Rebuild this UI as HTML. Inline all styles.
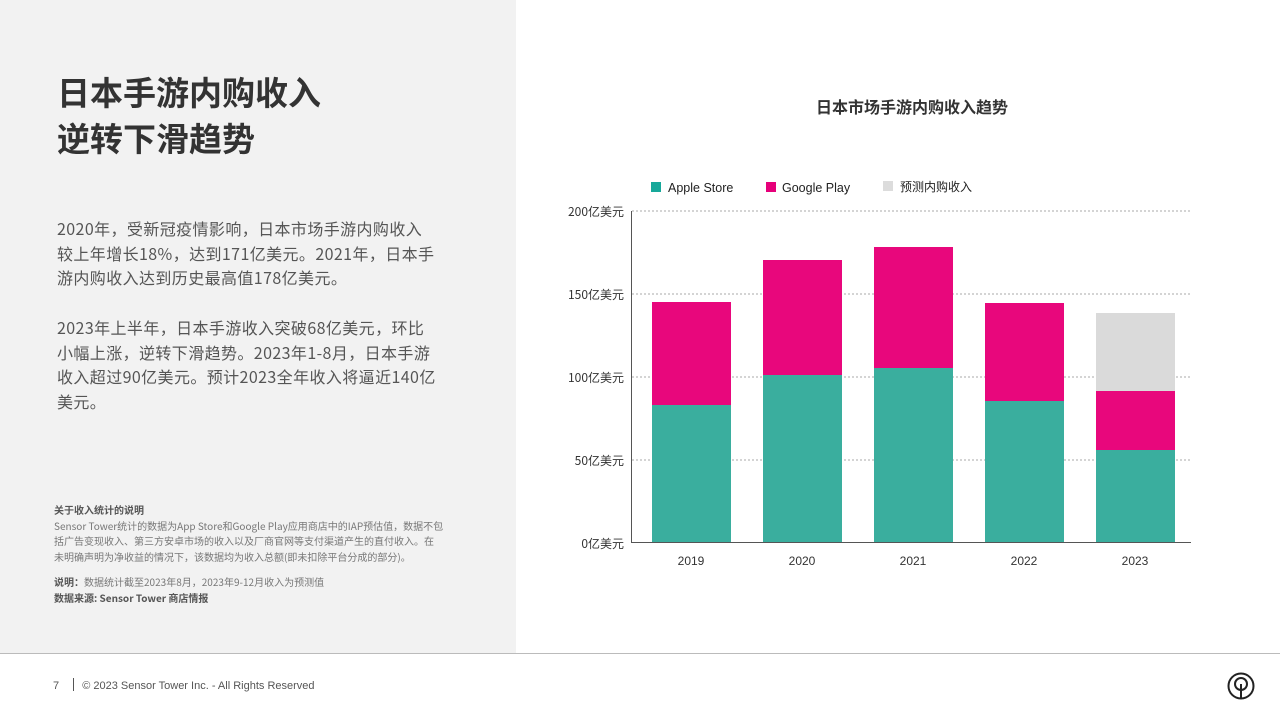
<!DOCTYPE html>
<html><head><meta charset="utf-8"><style>
body{margin:0;width:1280px;height:720px;position:relative;background:#fff;font-family:"Liberation Sans","Noto Sans CJK SC",sans-serif;overflow:hidden}
.abs{position:absolute}
#left{left:0;top:0;width:516px;height:654px;background:#f2f2f2}
h1{position:absolute;left:57px;top:68px;margin:0;font-size:33px;line-height:46px;font-weight:bold;color:#333;font-family:"Noto Sans CJK SC",sans-serif}
.p{left:57px;white-space:nowrap;font-size:16px;line-height:24.5px;letter-spacing:0.4px;color:#555;font-family:"Noto Sans CJK SC",sans-serif}
.n{left:54px;white-space:nowrap;font-size:10px;line-height:15.5px;color:#777;font-family:"Noto Sans CJK SC",sans-serif}
.n b{color:#555}
</style></head><body>
<div id="left" class="abs"></div>
<h1>日本手游内购收入<br>逆转下滑趋势</h1>
<div class="abs p" style="top:216px">2020年，受新冠疫情影响，日本市场手游内购收入<br>较上年增长18%，达到171亿美元。2021年，日本手<br>游内购收入达到历史最高值178亿美元。</div>
<div class="abs p" style="top:315px">2023年上半年，日本手游收入突破68亿美元，环比<br>小幅上涨，逆转下滑趋势。2023年1-8月，日本手游<br>收入超过90亿美元。预计2023全年收入将逼近140亿<br>美元。</div>
<div class="abs n" style="top:502px"><b>关于收入统计的说明</b><br>Sensor Tower统计的数据为App Store和Google Play应用商店中的IAP预估值，数据不包<br>括广告变现收入、第三方安卓市场的收入以及厂商官网等支付渠道产生的直付收入。在<br>未明确声明为净收益的情况下，该数据均为收入总额(即未扣除平台分成的部分)。</div>
<div class="abs n" style="top:574px"><b>说明：</b>数据统计截至2023年8月，2023年9-12月收入为预测值<br><b>数据来源: Sensor Tower 商店情报</b></div>
<div class="abs" style="left:0;top:653px;width:1280px;height:1px;background:#bbb"></div>
<div class="abs" style="left:53px;top:678px;font-size:11px;color:#555">7 &nbsp;<span style="display:inline-block;width:1px;height:13px;background:#555;vertical-align:-2px;margin:0 8px"></span>© 2023 Sensor Tower Inc. - All Rights Reserved</div>
<svg class="abs" style="left:1226px;top:671px" width="30" height="30" viewBox="0 0 30 30"><circle cx="15" cy="15" r="12.5" fill="none" stroke="#222" stroke-width="2"/><circle cx="15" cy="13" r="6" fill="none" stroke="#222" stroke-width="2"/><line x1="15" y1="13" x2="15" y2="27" stroke="#222" stroke-width="2"/></svg>
<svg class="abs" style="left:516px;top:0" width="764" height="653" font-family="Liberation Sans, Noto Sans CJK SC, sans-serif">
<text x="396" y="113" text-anchor="middle" font-size="16" font-weight="bold" fill="#333" font-family="Noto Sans CJK SC, sans-serif">日本市场手游内购收入趋势</text>
<rect x="135" y="182" width="10" height="10" fill="#17a89a"/><text x="152" y="192" font-size="12.5" fill="#222">Apple Store</text>
<rect x="250" y="182" width="10" height="10" fill="#e6007a"/><text x="266" y="192" font-size="12.5" fill="#222">Google Play</text>
<rect x="367" y="181" width="10" height="10" fill="#dcdcdc"/><text x="384" y="191" font-size="12" fill="#222" font-family="Noto Sans CJK SC, sans-serif">预测内购收入</text>
<g stroke="#aaa" stroke-dasharray="2,2" stroke-width="1"><line x1="116" y1="211" x2="674" y2="211"/><line x1="116" y1="294" x2="674" y2="294"/><line x1="116" y1="377" x2="674" y2="377"/><line x1="116" y1="460" x2="674" y2="460"/></g>
<g font-size="12" fill="#333" text-anchor="end" font-family="Noto Sans CJK SC, sans-serif"><text x="108" y="216">200亿美元</text><text x="108" y="299">150亿美元</text><text x="108" y="382">100亿美元</text><text x="108" y="465">50亿美元</text><text x="108" y="548">0亿美元</text></g>
<g fill="#3aae9e"><rect x="136" y="405" width="79" height="138"/><rect x="247" y="375" width="79" height="168"/><rect x="358" y="368" width="79" height="175"/><rect x="469" y="401" width="79" height="142"/><rect x="580" y="450" width="79" height="93"/></g>
<g fill="#e8077c"><rect x="136" y="302" width="79" height="103"/><rect x="247" y="260" width="79" height="115"/><rect x="358" y="247" width="79" height="121"/><rect x="469" y="303" width="79" height="98"/><rect x="580" y="391" width="79" height="59"/></g>
<rect x="580" y="313" width="79" height="78" fill="#dadada"/>
<line x1="115.5" y1="211" x2="115.5" y2="543" stroke="#555"/><line x1="115" y1="542.5" x2="675" y2="542.5" stroke="#555"/>
<g font-size="12" fill="#333" text-anchor="middle"><text x="175" y="565">2019</text><text x="286" y="565">2020</text><text x="397" y="565">2021</text><text x="508" y="565">2022</text><text x="619" y="565">2023</text></g>
</svg>
</body></html>
